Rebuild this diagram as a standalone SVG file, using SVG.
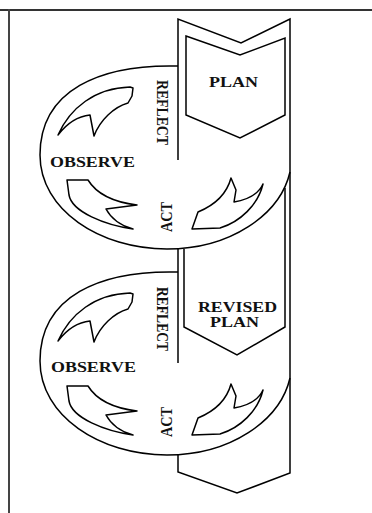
<svg xmlns="http://www.w3.org/2000/svg" width="372" height="513" viewBox="0 0 372 513">
<style>
.ln{fill:none;stroke:#000;stroke-width:1.5;stroke-linejoin:miter}
.ar{fill:#fff;stroke:#000;stroke-width:1.5;stroke-linejoin:round}
.t{font-family:"Liberation Serif","Times New Roman",serif;font-weight:bold;font-size:14.5px;fill:#111}
.v{font-family:"Liberation Serif","Times New Roman",serif;font-weight:bold;font-size:14px;fill:#111}
</style>
<defs>
<path id="loop" d="M178,66 C100,64 40,90 40,155 C40,210 100,249 167,249 C230,249 280,215 290,172"/>
<path id="a1" d="M58,135 C70,108 95,88 130,87 L133,88 L132,96 L128,103 C114,107 100,120 94,136 L90,115 C80,116 68,122 58,135 Z"/>
<path id="a2" d="M67,180 L88,180 C96,193 112,202 137,205 L106,209 C112,220 122,226 133,229 C105,225 72,212 69,195 Z"/>
<path id="a3" d="M192,229 L220,228 C240,222 258,205 263,184 C258,195 246,200 234,202 L236,190 L231,178 C227,193 215,205 198,212 Z"/>
</defs>
<g id="frame">
<line x1="0" y1="10" x2="372" y2="10" stroke="#333" stroke-width="2"/>
<line x1="9" y1="9" x2="9" y2="513" stroke="#444" stroke-width="2"/>
</g>
<g id="band">
<path class="ln" d="M178,160 V19 L241,43 L290,19 V473 L237,493 L178,472 V454"/>
<path class="ln" d="M178,249 V363"/>
<path class="ln" d="M184,249 V327 L237,355 L285,327 V188"/>
</g>
<g id="plan">
<path class="ln" d="M186,36 L240,55 L285,38 V115 L240,138 L186,115 Z"/>
<text class="t" x="209" y="87" textLength="49" lengthAdjust="spacingAndGlyphs">PLAN</text>
</g>
<g id="cycle1">
<use href="#loop" class="ln"/>
<text class="t" x="50" y="167" textLength="85" lengthAdjust="spacingAndGlyphs">OBSERVE</text>
<text class="v" transform="translate(157,80) scale(1.2,1) rotate(90)" textLength="65" lengthAdjust="spacingAndGlyphs">REFLECT</text>
<text class="v" transform="translate(172,232) scale(1.2,1) rotate(-90)" textLength="30" lengthAdjust="spacingAndGlyphs">ACT</text>
</g>
<g id="revised-plan">
<text class="t" x="198" y="312" textLength="79" lengthAdjust="spacingAndGlyphs">REVISED</text>
<text class="t" x="210" y="327" textLength="49" lengthAdjust="spacingAndGlyphs">PLAN</text>
</g>
<g id="cycle2" transform="translate(0,206)">
<use href="#loop" class="ln"/>
<text class="t" x="51" y="166" textLength="85" lengthAdjust="spacingAndGlyphs">OBSERVE</text>
<text class="v" transform="translate(157,81) scale(1.2,1) rotate(90)" textLength="64" lengthAdjust="spacingAndGlyphs">REFLECT</text>
<text class="v" transform="translate(172,231) scale(1.2,1) rotate(-90)" textLength="30" lengthAdjust="spacingAndGlyphs">ACT</text>
</g>
<g id="connectors">
<use href="#a1" class="ar"/>
<use href="#a2" class="ar"/>
<use href="#a3" class="ar"/>
<g transform="translate(0,206)">
<use href="#a1" class="ar"/>
<use href="#a2" class="ar"/>
<use href="#a3" class="ar"/>
</g>
</g>
</svg>
